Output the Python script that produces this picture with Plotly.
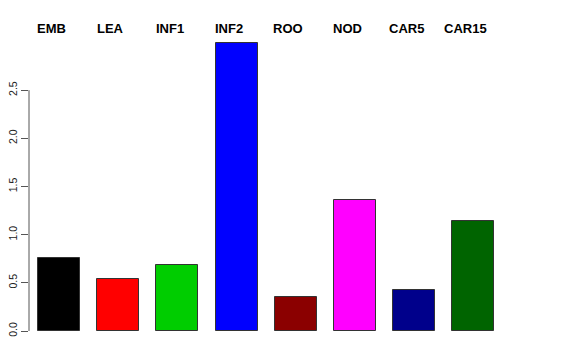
import plotly.graph_objects as go

categories = ["EMB", "LEA", "INF1", "INF2", "ROO", "NOD", "CAR5", "CAR15"]
values = [0.756, 0.54, 0.683, 2.99, 0.35, 1.359, 0.426, 1.147]
colors = ["#000000", "#FF0000", "#00CD00", "#0000FF", "#8B0000", "#FF00FF", "#00008B", "#006400"]
ytick_vals = [0.0, 0.5, 1.0, 1.5, 2.0, 2.5]
ytick_text = ["0.0", "0.5", "1.0", "1.5", "2.0", "2.5"]

xpos = list(range(len(categories)))

fig = go.Figure()
fig.add_trace(go.Bar(
    x=xpos, y=values, width=0.71,
    marker=dict(color=colors, line=dict(color="#333333", width=1)),
    hoverinfo="skip",
))

for i, c in enumerate(categories):
    fig.add_annotation(
        x=i, y=1, xref="x", yref="paper", text="<b>%s</b>" % c,
        showarrow=False, yanchor="middle", xanchor="center",
        yshift=14, xshift=-7.5,
        font=dict(family="Liberation Sans, Arial, sans-serif", size=13, color="black"),
    )

# R-style axis line spanning only the tick range
fig.add_shape(type="line", xref="paper", yref="y", x0=0, x1=0, y0=0, y1=2.5,
              line=dict(color="#555555", width=1))

fig.update_layout(
    width=576, height=360,
    margin=dict(l=21, r=81.4, t=34, b=37, autoexpand=False),
    paper_bgcolor="white", plot_bgcolor="white",
    showlegend=False,
    bargap=0,
    xaxis=dict(range=[-0.507, 7.5], showgrid=False, zeroline=False, showline=False,
               showticklabels=False, ticks="", automargin=False),
    yaxis=dict(range=[0, 3.0], showgrid=False, zeroline=False, showline=False,
               automargin=False,
               tickvals=ytick_vals, ticktext=ytick_text, ticks="outside", ticklen=7,
               tickcolor="#555555", tickwidth=1, tickangle=-90,
               tickfont=dict(family="Liberation Sans, Arial, sans-serif", size=10.5, color="#222222")),
    font=dict(family="Liberation Sans, Arial, sans-serif"),
)

fig.write_html("out.html")
